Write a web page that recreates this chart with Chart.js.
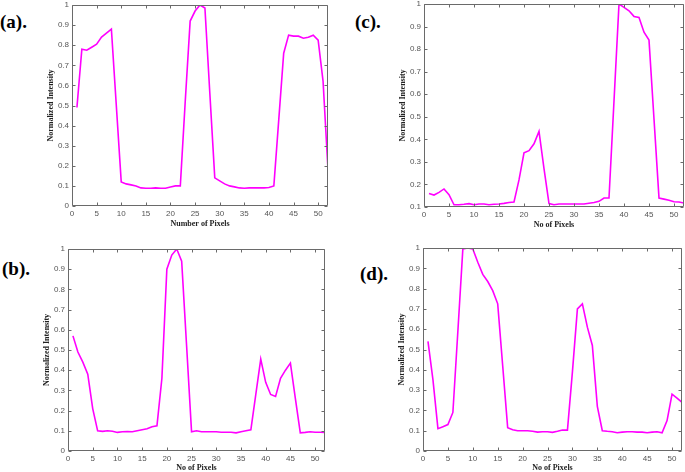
<!DOCTYPE html>
<html>
<head>
<meta charset="utf-8">
<script src="https://cdn.jsdelivr.net/npm/chart.js@4.4.1/dist/chart.umd.min.js"></script>
<style>
  html, body { margin: 0; padding: 0; background: #fff; width: 685px; height: 472px; overflow: hidden; }
  canvas { position: absolute; left: 0; top: 0; }
  .lbl { position: absolute; font-family: "Liberation Serif", "Times New Roman", serif; font-weight: bold; font-size: 19px; color: #000; line-height: 1; }
</style>
</head>
<body>
<div class="lbl" style="left:0px;top:12px;">(a).</div>
<div class="lbl" style="left:355px;top:12px;">(c).</div>
<div class="lbl" style="left:2px;top:259px;">(b).</div>
<div class="lbl" style="left:360px;top:264px;">(d).</div>
<canvas id="ca" width="685" height="500"></canvas>
<canvas id="cc" width="685" height="500"></canvas>
<canvas id="cb" width="685" height="500"></canvas>
<canvas id="cd" width="685" height="500"></canvas>
<script>
// Pixel index (x) for every profile
const pixels = Array.from({length: 52}, (_, i) => i + 1);

// X tick labels
const xTickValues = [0, 5, 10, 15, 20, 25, 30, 35, 40, 45, 50];

// (a) profile
const profileA = [0.49, 0.78, 0.775, 0.79, 0.805, 0.84, 0.86, 0.88, 0.50, 0.12,
  0.11, 0.105, 0.10, 0.09, 0.088, 0.088, 0.09, 0.088, 0.088, 0.095,
  0.10, 0.10, 0.52, 0.92, 0.97, 1.0, 0.985, 0.56, 0.14, 0.125,
  0.11, 0.10, 0.095, 0.09, 0.088, 0.09, 0.09, 0.09, 0.09, 0.092,
  0.10, 0.43, 0.76, 0.85, 0.845, 0.845, 0.835, 0.84, 0.85, 0.825,
  0.62, 0.18];

// (b) profile
const profileB = [0.57, 0.49, 0.44, 0.38, 0.21, 0.10, 0.097, 0.10, 0.098, 0.092,
  0.095, 0.096, 0.095, 0.10, 0.105, 0.11, 0.12, 0.125, 0.36, 0.90,
  0.97, 1.0, 0.94, 0.52, 0.095, 0.10, 0.095, 0.095, 0.095, 0.095,
  0.093, 0.093, 0.093, 0.09, 0.095, 0.10, 0.105, 0.28, 0.455, 0.34,
  0.28, 0.27, 0.36, 0.40, 0.435, 0.26, 0.09, 0.092, 0.095, 0.093,
  0.093, 0.092];

// (c) profile
const profileC = [0.16, 0.153, 0.165, 0.18, 0.155, 0.11, 0.11, 0.112, 0.115, 0.11,
  0.113, 0.113, 0.11, 0.112, 0.113, 0.116, 0.12, 0.122, 0.22, 0.34,
  0.35, 0.38, 0.435, 0.27, 0.115, 0.11, 0.113, 0.113, 0.113, 0.113,
  0.113, 0.113, 0.117, 0.12, 0.125, 0.14, 0.14, 0.57, 1.0, 0.985,
  0.97, 0.945, 0.94, 0.875, 0.84, 0.49, 0.14, 0.135, 0.13, 0.123,
  0.122, 0.118];

// (d) profile
const profileD = [0.54, 0.35, 0.11, 0.12, 0.13, 0.19, 0.59, 0.995, 1.0, 0.995,
  0.93, 0.87, 0.835, 0.79, 0.725, 0.42, 0.115, 0.105, 0.10, 0.10,
  0.10, 0.097, 0.093, 0.095, 0.095, 0.092, 0.097, 0.103, 0.103, 0.39,
  0.70, 0.725, 0.61, 0.52, 0.22, 0.10, 0.097, 0.095, 0.09, 0.093,
  0.095, 0.095, 0.093, 0.093, 0.09, 0.093, 0.095, 0.09, 0.15, 0.28,
  0.26, 0.24];

// Axis titles
const yTitle = "Normalized Intensity";
const xTitleA = "Number of Pixels";
const xTitleOther = "No of Pixels";

const CANVAS_W = 685, CANVAS_H = 500;
const Y_AXIS_W = 30, X_AXIS_H = 26;

const boxTicks = {
  id: 'boxTicks',
  afterDraw(chart) {
    const ctx = chart.ctx;
    const {left, top, right, bottom} = chart.chartArea;
    const x = chart.scales.x, y = chart.scales.y;
    const L = Math.round(left) + 0.5, R = Math.round(right) - 0.5;
    const T = Math.round(top) + 0.5, B = Math.round(bottom) - 0.5;
    ctx.save();
    ctx.strokeStyle = '#6a6a6a';
    ctx.lineWidth = 1;
    ctx.beginPath();
    ctx.rect(L, T, R - L, B - T);
    const len = 3;
    x.ticks.forEach(t => {
      const px = Math.round(x.getPixelForValue(t.value)) + 0.5;
      ctx.moveTo(px, B); ctx.lineTo(px, B - len);
      ctx.moveTo(px, T); ctx.lineTo(px, T + len);
    });
    y.ticks.forEach(t => {
      const py = Math.round(y.getPixelForValue(t.value)) + 0.5;
      ctx.moveTo(L, py); ctx.lineTo(L + len, py);
      ctx.moveTo(R, py); ctx.lineTo(R - len, py);
    });
    ctx.stroke();
    ctx.restore();
  }
};

function zeroPad(scale) {
  scale.paddingTop = 0; scale.paddingBottom = 0;
  scale.paddingLeft = 0; scale.paddingRight = 0;
}

function makePanel(id, values, area, yMin, xTitle, titleY) {
  const xBottom = area.bottom + X_AXIS_H;
  const xTitlePadBottom = xBottom - titleY - 4.8;
  new Chart(document.getElementById(id), {
    type: 'line',
    data: {
      labels: pixels,
      datasets: [{
        data: values.map((v, i) => ({x: pixels[i], y: v})),
        borderColor: '#ff00ff',
        borderWidth: 1.6,
        pointRadius: 0,
        tension: 0,
        fill: false
      }]
    },
    options: {
      responsive: false,
      animation: false,
      devicePixelRatio: 1,
      layout: {
        padding: {
          left: area.left - Y_AXIS_W,
          top: area.top,
          right: CANVAS_W - area.right,
          bottom: CANVAS_H - area.bottom - X_AXIS_H
        }
      },
      plugins: { legend: { display: false }, tooltip: { enabled: false } },
      scales: {
        x: {
          type: 'linear',
          min: 0, max: 52,
          grid: { display: false, drawTicks: false },
          border: { display: false },
          ticks: {
            padding: 3,
            color: '#555',
            font: { family: 'Arial, "Liberation Sans", sans-serif', size: 8 },
            maxRotation: 0,
            autoSkip: false,
            callback: v => String(v)
          },
          afterBuildTicks: s => { s.ticks = xTickValues.map(v => ({value: v})); },
          afterFit: s => { s.height = X_AXIS_H; zeroPad(s); },
          title: {
            display: true,
            text: xTitle,
            color: '#222',
            font: { family: '"Liberation Serif", "Times New Roman", serif', size: 8, weight: 'bold' },
            padding: { top: 0, bottom: xTitlePadBottom }
          }
        },
        y: {
          min: yMin, max: 1,
          grid: { display: false, drawTicks: false },
          border: { display: false },
          ticks: {
            stepSize: 0.1,
            padding: 3,
            color: '#555',
            font: { family: 'Arial, "Liberation Sans", sans-serif', size: 8 },
            autoSkip: false,
            callback: v => String(Math.round(v * 10) / 10)
          },
          afterFit: s => { s.width = Y_AXIS_W; zeroPad(s); },
          title: {
            display: true,
            text: yTitle,
            color: '#222',
            font: { family: '"Liberation Serif", "Times New Roman", serif', size: 8, weight: 'bold' },
            padding: { top: 4, bottom: 0 }
          }
        }
      }
    },
    plugins: [boxTicks]
  });
}

makePanel('ca', profileA, {left: 72, top: 5, right: 328, bottom: 206}, 0, xTitleA, 224);
makePanel('cc', profileC, {left: 424, top: 4, right: 684, bottom: 207}, 0.1, xTitleOther, 225);
makePanel('cb', profileB, {left: 68, top: 249, right: 325, bottom: 451}, 0, xTitleOther, 468);
makePanel('cd', profileD, {left: 423, top: 248, right: 682, bottom: 451}, 0, xTitleOther, 468);
</script>
</body>
</html>
